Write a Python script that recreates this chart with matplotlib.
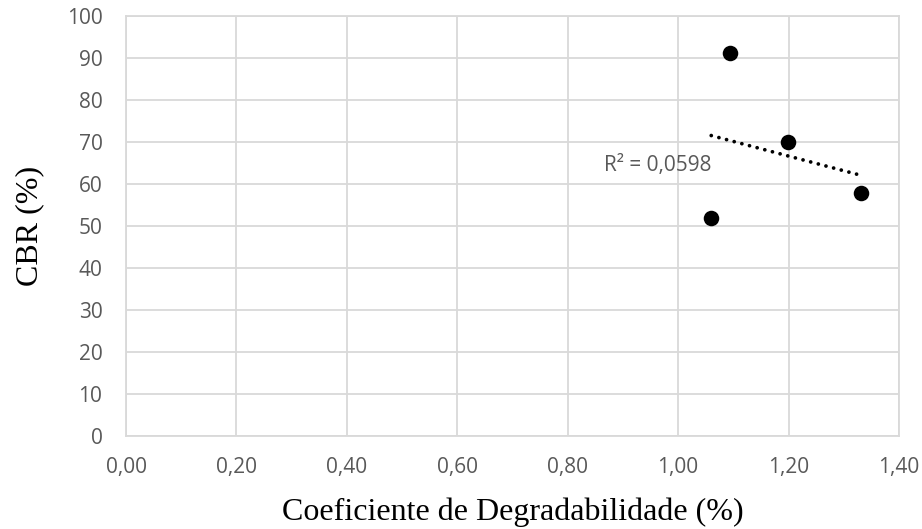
import matplotlib
matplotlib.use("Agg")
import matplotlib.pyplot as plt
import numpy as np

# Data
coef_degrad = [1.060, 1.094, 1.199, 1.332]
cbr = [51.8, 91.1, 69.9, 57.8]
x_ticks = [0.0, 0.2, 0.4, 0.6, 0.8, 1.0, 1.2, 1.4]
x_tick_labels = ["0,00", "0,20", "0,40", "0,60", "0,80", "1,00", "1,20", "1,40"]
y_ticks = [0, 10, 20, 30, 40, 50, 60, 70, 80, 90, 100]
r2_label = "R² = 0,0598"

fig = plt.figure(figsize=(9.22, 5.29), dpi=100)
ax = fig.add_axes([0.1367, 0.1758, 0.975 - 0.1367, 0.9698 - 0.1758])

grid_c = "#d9d9d9"
txt_c = "#595959"

ax.set_xlim(0, 1.4)
ax.set_ylim(0, 100)
ax.set_xticks(x_ticks)
ax.set_xticklabels(x_tick_labels)
ax.set_yticks(y_ticks)
ax.grid(True, color=grid_c, linewidth=1.3)
ax.set_axisbelow(True)
for s in ax.spines.values():
    s.set_color(grid_c)
    s.set_linewidth(1.3)
ax.tick_params(length=0, labelsize=15, labelcolor=txt_c)
ax.tick_params(axis="y", pad=17)
ax.tick_params(axis="x", pad=15)
for lab in ax.get_xticklabels() + ax.get_yticklabels():
    lab.set_fontfamily("Open Sans")

# trendline
xa = np.array(coef_degrad)
ya = np.array(cbr)
m, b = np.polyfit(xa, ya, 1)
xt = np.array([xa.min(), xa.max()])
ax.plot(xt, m * xt + b, color="black", linewidth=2.7, linestyle=(0, (0.01, 2.1)),
        dash_capstyle="round", zorder=2)

ax.scatter(coef_degrad, cbr, s=125, color="black", zorder=3, linewidths=0)

ax.text(0.866, 64.3, r2_label, ha="left", va="center", fontsize=15,
        color=txt_c, family="Open Sans")

ax.set_xlabel("Coeficiente de Degradabilidade (%)", fontsize=23,
              family="Liberation Serif", labelpad=14)
ax.set_ylabel("CBR (%)", fontsize=23, family="Liberation Serif", labelpad=16)

fig.savefig("out.png", dpi=100)
